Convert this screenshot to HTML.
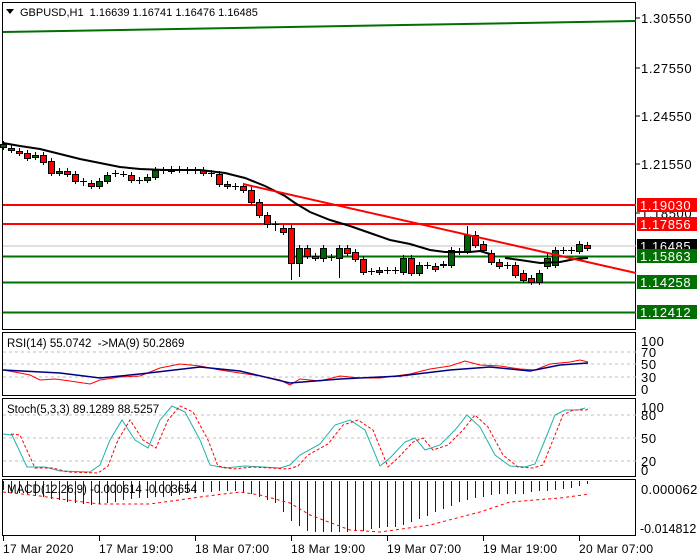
<!DOCTYPE html>
<html><head><meta charset="utf-8"><style>
html,body{margin:0;padding:0;background:#fff;}
svg{display:block;font-family:"Liberation Sans",sans-serif;}
</style></head><body>
<svg id="s" width="700" height="560" xmlns="http://www.w3.org/2000/svg">
<rect width="700" height="560" fill="#fff"/>
</svg>
<script>
var s=document.getElementById('s');var h='';
function L(x1,y1,x2,y2,c,w,d){h+='<line x1="'+x1+'" y1="'+y1+'" x2="'+x2+'" y2="'+y2+'" stroke="'+c+'" stroke-width="'+(w||1)+'"'+(d?' stroke-dasharray="'+d+'"':'')+'/>';}
function R(x,y,w,hh,f,st){h+='<rect x="'+x+'" y="'+y+'" width="'+w+'" height="'+hh+'" fill="'+f+'"'+(st?' stroke="'+st+'" stroke-width="1"':'')+'/>';}
function T(x,y,t,c,sz,ls){h+='<text x="'+x+'" y="'+y+'" fill="'+(c||'#000')+'" font-size="'+(sz||11)+'"'+(ls?' letter-spacing="'+ls+'"':'')+'>'+t+'</text>';}
function RT(x,y,t,c){T(x,y,t,c,13,0.6);}
function P(pts,c,w,d){h+='<polyline fill="none" stroke="'+c+'" stroke-width="'+(w||1)+'"'+(d?' stroke-dasharray="'+d+'"':'')+' points="'+pts.map(function(p){return p.join(',')}).join(' ')+'"/>';}
R(2.5,2.5,633,327,'none','#000');
R(2.5,332.5,633,63,'none','#000');
R(2.5,398.5,633,78,'none','#000');
R(2.5,479.5,633,56,'none','#000');
L(3,32,636,21,'#007000',2);
L(3,246,636,246,'#c0c0c0',1);
L(3,205,636,205,'#ff0000',2);
L(3,224,636,224,'#ff0000',2);
L(3,256.5,636,256.5,'#007000',2);
L(3,282.5,636,282.5,'#007000',2);
L(3,312.5,636,312.5,'#007000',2);
var C=[[144,147,'g'],[148,150,'r'],[151,153,'r'],[153,158,'r'],[155,157,'g'],[155,162,'r'],[161,173,'r'],[171,173,'g'],[171,174,'r'],[174,181,'r'],[181,183,'n'],[183,186,'r'],[181,186,'g'],[175,181,'g'],[173,174,'n'],[174,174,'n'],[175,180,'r'],[180,181,'n'],[177,180,'g'],[170,177,'g'],[170,171,'n'],[169,171,'g'],[169,170,'n'],[170,171,'n'],[170,171,'n'],[170,173,'r'],[173,174,'n'],[174,184,'r'],[184,186,'r'],[186,187,'n'],[186,190,'r'],[190,202,'r'],[202,215,'r'],[215,224,'r'],[224,228,'n'],[228,232,'r'],[228,263,'r'],[248,263,'g'],[248,256,'r'],[256,258,'r'],[248,258,'g'],[257,258,'n'],[248,258,'g'],[248,253,'r'],[252,259,'r'],[259,272,'r'],[271,272,'n'],[270,272,'g'],[270,271,'n'],[270,271,'n'],[258,272,'g'],[258,273,'r'],[265,273,'g'],[265,266,'n'],[266,269,'r'],[264,265,'g'],[250,265,'g'],[251,252,'n'],[235,251,'g'],[235,245,'r'],[244,250,'r'],[253,262,'r'],[262,266,'r'],[265,266,'n'],[265,275,'r'],[273,280,'r'],[278,282,'r'],[273,282,'g'],[258,266,'g'],[250,265,'g'],[250,251,'n'],[250,251,'n'],[244,251,'g'],[245,248,'r']];
var lw={36:280,37:277,42:278,45:275,40:262,33:228};var hw={58:226,59:231,68:252};
C.forEach(function(c,i){var x=3+8*i;var hi=hw[i]||c[0]-3,lo=lw[i]||c[1]+3;L(x+0.5,hi,x+0.5,lo,'#000',1);
 if(c[2]=='n'){L(x-3,c[0]+0.5,x+4,c[0]+0.5,'#000',1);}else{R(x-2.5,c[0]+0.5,6,Math.max(1,c[1]-c[0]),c[2]=='r'?'#ff0000':'#006400','#000');}});
P([[3,143],[20,146],[40,149],[60,154],[80,159],[100,163],[120,167],[140,169],[165,170],[200,170],[225,173],[245,178],[265,186],[285,196],[295,203],[310,212],[330,220],[350,226],[370,233],[390,240],[410,244],[430,250],[445,252],[470,252],[480,251],[490,254]],'#000',2);
P([[505,258],[520,260],[540,263],[560,262],[575,259],[588,258]],'#000',2);
L(243,184,636,273,'#ff0000',2);
[['1.30550',18],['1.27550',68],['1.24550',116],['1.21550',164],['1.18500',213]].forEach(function(t){L(636,t[1],640,t[1],'#000');RT(641,t[1]+5,t[0]);});
[['1.19030',205,'#ff0000'],['1.17856',224,'#ff0000'],['1.16485',246,'#000'],['1.15863',256,'#007000'],['1.14258',282,'#007000'],['1.12412',312,'#007000']].forEach(function(t){R(637,t[1]-7,60,14,t[2]);RT(640,t[1]+5,t[0],'#fff');});
h+='<polygon points="6,9 14,9 10,14" fill="#000"/>';
T(20,16,'GBPUSD,H1&#160;&#160;1.16639 1.16741 1.16476 1.16485','#000',11);
[352,364,377].forEach(function(y){L(3,y,636,y,'#c0c0c0',1,'3,3');});
[['100',341],['70',352],['50',364],['30',377],['0',389]].forEach(function(t){RT(641,t[1]+5,t[0]);});
P([[3,370],[20,373],[30,375],[40,380],[55,379],[70,381],[90,384],[100,380],[120,377],[140,376],[160,368],[180,364],[200,366],[220,370],[240,373],[260,376],[280,380],[290,385],[300,379],[320,381],[340,376],[360,378],[380,378],[395,376],[410,374],[430,369],[450,366],[465,361],[480,365],[500,366],[520,369],[535,370],[550,364],[570,362],[580,360],[588,362]],'#ff0000',1);
P([[3,370],[60,373],[100,378],[140,374],[200,367],[240,371],[290,383],[340,379],[400,376],[450,370],[490,367],[530,371],[560,365],[588,363]],'#000080',1.5);
T(7,347,'RSI(14) 55.0742&#160;&#160;-&gt;MA(9) 50.2869','#000',11.5);
[415,438,461].forEach(function(y){L(3,y,636,y,'#c0c0c0',1,'3,3');});
[['100',407],['80',415],['50',438],['20',461],['0',470]].forEach(function(t){RT(641,t[1]+5,t[0]);});
var st=[[3,434],[12,435],[27,467],[45,467],[60,471],[90,472],[100,465],[110,440],[122,420],[135,440],[148,448],[160,420],[172,406],[185,412],[200,440],[210,465],[225,468],[245,466],[280,468],[290,465],[300,455],[320,444],[335,425],[350,420],[365,430],[380,466],[390,458],[405,442],[415,438],[425,450],[440,445],[455,430],[467,415],[480,427],[495,455],[510,466],[525,467],[535,464],[545,440],[555,415],[565,410],[578,410],[585,408]];
P(st,'#20b2aa',1);
P(st.map(function(p){return [Math.min(p[0]+8,590),p[1]+(p[1]>460?1:0)]}),'#ff0000',1,'3,2');
T(7,413,'Stoch(5,3,3) 89.1289 88.5257','#000',11.5);
var mb=[[3,490],[75,503],[91,505],[107,503],[123,500],[139,498],[155,497],[171,496],[187,493],[203,492],[219,491],[235,491],[251,494],[275,503],[291,521],[307,531],[323,532],[340,532],[360,531],[380,528],[400,526],[420,519],[440,510],[460,502],[480,497],[500,494],[520,494],[540,491],[560,490],[580,486],[588,484]];
function itp(a,x){for(var i=1;i<a.length;i++){if(x<=a[i][0]){var p=a[i-1],q=a[i];return p[1]+(q[1]-p[1])*(x-p[0])/(q[0]-p[0]);}}return a[a.length-1][1];}
for(var x=3;x<=588;x+=8){L(x+0.5,481,x+0.5,Math.round(itp(mb,x)),'#0000ff',1);}
P([[3,492],[40,496],[75,501],[100,504],[150,504],[200,497],[240,492],[260,495],[290,503],[310,515],[350,530],[380,532],[430,525],[480,512],[510,502],[560,498],[590,494]],'#ff0000',1,'3,3');
T(7,493,'MACD(12,26,9) -0.000614 -0.003654','#000',11.5);
T(641,494,'0.000062','#000',13,0.3);T(640,533,'-0.014812','#000',12.5,0);
[['17 Mar 2020',3],['17 Mar 19:00',99],['18 Mar 07:00',195],['18 Mar 19:00',291],['19 Mar 07:00',387],['19 Mar 19:00',483],['20 Mar 07:00',579]].forEach(function(t){L(t[1]+0.5,536,t[1]+0.5,541,'#000');T(t[1],553,t[0],'#000',12,0.3);});
s.innerHTML+=h;
</script>
</body></html>
